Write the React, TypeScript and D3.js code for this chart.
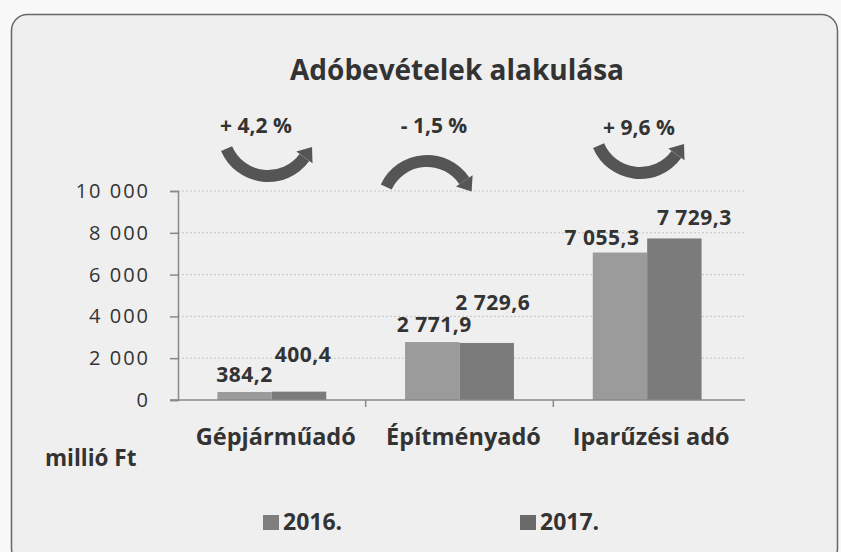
import * as d3 from "d3";
import React, { useEffect, useRef } from "react";

const categories = ["Gépjárműadó", "Építményadó", "Iparűzési adó"];
const years = ["2016.", "2017."];
const values2016 = [384.2, 2771.9, 7055.3];
const values2017 = [400.4, 2729.6, 7729.3];
const yTicks = [0, 2000, 4000, 6000, 8000, 10000];
const changeLabels = ["+ 4,2 %", "- 1,5 %", "+ 9,6 %"];
const changeUp = [true, false, true];

const W = 841;
const H = 552;

const huLocale = d3.formatLocale({
  decimal: ",",
  thousands: " ",
  grouping: [3],
  currency: ["", " Ft"],
});

const App: React.FC = () => {
  const ref = useRef<SVGSVGElement>(null);

  useEffect(() => {
    if (!ref.current) return;
    const svg = d3.select(ref.current);
    svg.selectAll("*").remove();

    const font = "'Open Sans', Lato, sans-serif";
    const textColor = "#333";
    const colors = ["#9b9b9b", "#7b7b7b"];

    svg.append("rect").attr("width", W).attr("height", H).attr("fill", "#f8f8f8");
    svg
      .append("rect")
      .attr("x", 11.5)
      .attr("y", 14.5)
      .attr("width", 826)
      .attr("height", 550)
      .attr("rx", 16)
      .attr("fill", "#efefef")
      .attr("stroke", "#666")
      .attr("stroke-width", 1.5);

    const x = d3.scaleBand().domain(categories).range([178, 741]).paddingInner(0.42).paddingOuter(0.21);
    const xs = d3.scaleBand().domain(years).range([0, x.bandwidth()]);
    const y = d3.scaleLinear().domain([0, 10000]).range([400, 191]);

    // gridlines
    svg
      .append("g")
      .selectAll("line")
      .data(yTicks.filter((t) => t > 0))
      .join("line")
      .attr("x1", 178)
      .attr("x2", 745)
      .attr("y1", (d) => y(d))
      .attr("y2", (d) => y(d))
      .attr("stroke", "#c4c4c4")
      .attr("stroke-dasharray", "2,2");

    // y axis
    const yAxis = svg
      .append("g")
      .attr("transform", "translate(178,0)")
      .call(d3.axisLeft(y).tickValues(yTicks).tickSize(8).tickPadding(20).tickFormat(huLocale.format(",d")));
    yAxis.select(".domain").attr("stroke", "#888").attr("stroke-width", 1.5);
    yAxis.selectAll(".tick line").attr("stroke", "#888").attr("stroke-width", 1.5);
    yAxis
      .selectAll(".tick text")
      .attr("font-family", font)
      .attr("font-size", 20)
      .attr("font-weight", 500)
      .attr("letter-spacing", 2)
      .attr("fill", textColor);

    // bars
    const series = [values2016, values2017];
    const bars = svg.append("g");
    series.forEach((vals, si) => {
      bars
        .selectAll(`.bar${si}`)
        .data(vals)
        .join("rect")
        .attr("class", `bar${si}`)
        .attr("x", (_, i) => (x(categories[i]) || 0) + (xs(years[si]) || 0))
        .attr("y", (d) => y(d))
        .attr("width", xs.bandwidth())
        .attr("height", (d) => y(0) - y(d))
        .attr("fill", colors[si]);
    });

    // x axis
    svg
      .append("line")
      .attr("x1", 170)
      .attr("x2", 745)
      .attr("y1", y(0))
      .attr("y2", y(0))
      .attr("stroke", "#888")
      .attr("stroke-width", 1.5);
    const step = x.step();
    svg
      .append("g")
      .selectAll("line")
      .data(categories.slice(1))
      .join("line")
      .attr("x1", (d) => (x(d) || 0) - step * 0.21)
      .attr("x2", (d) => (x(d) || 0) - step * 0.21)
      .attr("y1", y(0))
      .attr("y2", y(0) + 7)
      .attr("stroke", "#888")
      .attr("stroke-width", 1.5);

    svg
      .append("g")
      .selectAll("text")
      .data(categories)
      .join("text")
      .attr("x", (d) => (x(d) || 0) + x.bandwidth() / 2 + 4)
      .attr("y", 445)
      .attr("text-anchor", "middle")
      .attr("font-family", font)
      .attr("font-weight", 700)
      .attr("font-size", 23.5)
      .attr("fill", textColor)
      .text((d) => d);

    // data labels (hand-placed like the original)
    const labelShift = [
      [
        [0, -10],
        [2, -10],
        [-18, -8],
      ],
      [
        [4, -30],
        [6, -33],
        [20, -13],
      ],
    ];
    const fmt = huLocale.format(",.1f");
    series.forEach((vals, si) => {
      svg
        .append("g")
        .selectAll("text")
        .data(vals)
        .join("text")
        .attr("x", (_, i) => (x(categories[i]) || 0) + (xs(years[si]) || 0) + xs.bandwidth() / 2 + labelShift[si][i][0])
        .attr("y", (d, i) => y(d) + labelShift[si][i][1])
        .attr("text-anchor", "middle")
        .attr("font-family", font)
        .attr("font-weight", 700)
        .attr("font-size", 21)
        .attr("letter-spacing", 0.5)
        .attr("fill", textColor)
        .text((d) => fmt(d));
    });

    // title
    svg
      .append("text")
      .attr("x", 457)
      .attr("y", 80)
      .attr("text-anchor", "middle")
      .attr("font-family", font)
      .attr("font-weight", 700)
      .attr("font-size", 28)
      .attr("fill", textColor)
      .text("Adóbevételek alakulása");

    // unit label
    svg
      .append("text")
      .attr("x", 45)
      .attr("y", 466)
      .attr("font-family", font)
      .attr("font-weight", 700)
      .attr("font-size", 22.5)
      .attr("fill", textColor)
      .text("millió Ft");

    // change arrows
    const arrowPos = [
      { cx: 268, cy: 131, lx: 256, ly: 133 },
      { cx: 427, cy: 206, lx: 434, ly: 133 },
      { cx: 640, cy: 128, lx: 639, ly: 135 },
    ];
    const r = 45;
    const arrowColor = "#555";
    changeLabels.forEach((lab, i) => {
      const { cx, cy, lx, ly } = arrowPos[i];
      const up = changeUp[i];
      const a0 = up ? (157 * Math.PI) / 180 : (205 * Math.PI) / 180;
      const a1 = up ? (36 * Math.PI) / 180 : (326 * Math.PI) / 180;
      const p = d3.path();
      p.moveTo(cx + r * Math.cos(a0), cy + r * Math.sin(a0));
      p.arc(cx, cy, r, a0, a1, up);
      svg
        .append("path")
        .attr("d", p.toString())
        .attr("fill", "none")
        .attr("stroke", arrowColor)
        .attr("stroke-width", 12);
      const ex = cx + r * Math.cos(a1);
      const ey = cy + r * Math.sin(a1);
      const tx = up ? Math.sin(a1) : -Math.sin(a1);
      const ty = up ? -Math.cos(a1) : Math.cos(a1);
      const nx = -ty;
      const ny = tx;
      const hw = 10;
      const hl = 13;
      svg
        .append("path")
        .attr(
          "d",
          `M${ex + nx * hw},${ey + ny * hw}L${ex + tx * hl},${ey + ty * hl}L${ex - nx * hw},${ey - ny * hw}Z`
        )
        .attr("fill", arrowColor);
      svg
        .append("text")
        .attr("x", lx)
        .attr("y", ly)
        .attr("text-anchor", "middle")
        .attr("font-family", font)
        .attr("font-weight", 700)
        .attr("font-size", 21)
        .attr("fill", textColor)
        .text(lab);
    });

    // legend
    const legendX = [263, 520];
    const lg = svg.append("g");
    years.forEach((yr, i) => {
      lg.append("rect")
        .attr("x", legendX[i])
        .attr("y", 515)
        .attr("width", 16)
        .attr("height", 15)
        .attr("fill", i === 0 ? "#7e7e7e" : "#6a6a6a");
      lg.append("text")
        .attr("x", legendX[i] + 20)
        .attr("y", 530)
        .attr("font-family", font)
        .attr("font-weight", 700)
        .attr("font-size", 23)
        .attr("fill", textColor)
        .text(yr);
    });
  }, []);

  return (
    <div style={{ position: "fixed", left: 0, top: 0 }}>
      <svg ref={ref} width={W} height={H} style={{ display: "block" }} />
    </div>
  );
};

export default App;
